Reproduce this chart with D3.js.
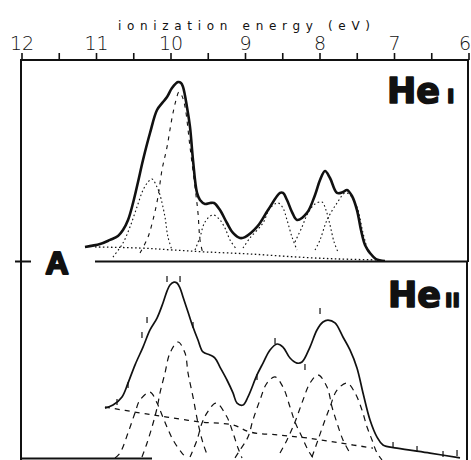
<!DOCTYPE html>
<html>
<head>
<meta charset="utf-8">
<script src="https://cdn.jsdelivr.net/npm/d3@7"></script>
<style>
body { margin: 0; background: #fff; }
svg { display: block; }
</style>
</head>
<body>
<svg id="chart" width="471" height="460"></svg>
<script>
// energies in eV, intensity in arbitrary units (0-100 for each panel)

var tickValues = [12, 11.5, 11, 10.5, 10, 9.5, 9, 8.5, 8, 7.5, 7, 6.5, 6];
var tickLabels = ["12", "11", "10", "9", "8", "7", "6"];

// He I spectrum (envelope)
var heI_envelope = [[11.148,7.8],[10.946,9.4],[10.812,11.7],[10.705,13.9],[10.638,17.2],[10.570,22.8],
  [10.503,32.2],[10.436,43.9],[10.369,56.1],[10.275,71.1],[10.181,83.9],[10.101,88.3],[10.047,91.1],
  [9.980,96.1],[9.899,99.4],[9.859,98.9],[9.832,96.7],[9.779,85.6],[9.738,74.4],[9.698,56.1],
  [9.644,37.8],[9.604,33.9],[9.537,31.7],[9.470,32.2],[9.416,32.2],[9.336,28.3],[9.242,21.1],
  [9.161,15.6],[9.067,12.8],[9.000,13.3],[8.839,18.9],[8.691,28.3],[8.530,37.8],[8.490,37.8],
  [8.436,33.9],[8.369,27.2],[8.302,22.8],[8.168,26.7],[8.060,36.7],[7.993,45.0],[7.926,50.0],
  [7.859,46.1],[7.765,37.8],[7.685,38.3],[7.631,39.4],[7.564,36.1],[7.497,28.3],[7.443,17.2],
  [7.389,8.9],[7.322,4.4],[7.242,1.1],[7.121,0]];

var heI_background = [[11.013,7.8],[10.409,7.2],[9.966,6.1],[9.510,5.0],[8.933,3.9],[8.302,2.2],
  [7.725,1.1],[7.188,0.6]];

// He I fitted bands
var heI_band1 = [[10.772,2.2],[10.638,10.0],[10.544,18.9],[10.450,30.0],[10.369,39.4],[10.302,43.9],
  [10.248,45.6],[10.181,41.1],[10.141,36.7],[10.074,24.4],[10.034,13.3],[9.980,6.1]];
var heI_band2 = [[10.409,4.4],[10.302,13.3],[10.235,22.8],[10.168,35.6],[10.114,50.6],[10.047,63.3],
  [9.980,79.4],[9.926,89.4],[9.886,93.9],[9.846,91.7],[9.805,85.6],[9.738,63.3],[9.671,41.1],
  [9.631,26.7],[9.604,11.7],[9.564,3.9]];
var heI_band3 = [[9.671,6.1],[9.604,13.3],[9.537,21.7],[9.430,25.6],[9.336,22.8],[9.269,18.3],
  [9.201,11.7],[9.107,6.1]];
var heI_band4 = [[9.027,7.2],[8.933,12.8],[8.758,21.1],[8.664,29.4],[8.557,32.2],[8.490,29.4],
  [8.436,22.8],[8.369,13.3],[8.302,6.1]];
var heI_band5 = [[8.329,10.6],[8.235,18.9],[8.154,26.7],[8.060,31.7],[7.966,32.8],[7.913,28.3],
  [7.859,20.0],[7.805,10.6],[7.752,5.0]];
var heI_band6 = [[8.060,6.1],[7.993,11.7],[7.899,22.8],[7.765,32.2],[7.658,37.8],[7.591,36.7],
  [7.497,30.0],[7.416,15.6],[7.349,5.0]];

// He II spectrum (envelope)
var heII_envelope = [[10.879,34.4],[10.772,36.1],[10.651,40.6],[10.570,48.3],[10.477,58.3],
  [10.369,68.3],[10.275,77.8],[10.181,84.4],[10.101,92.8],[10.047,99.4],[10.007,102.8],[9.953,104.4],
  [9.913,103.9],[9.872,101.1],[9.832,96.1],[9.765,87.8],[9.698,79.4],[9.631,72.2],[9.564,65.6],
  [9.470,63.9],[9.403,62.2],[9.336,57.2],[9.242,50.0],[9.161,42.8],[9.107,37.2],[9.027,36.1],
  [8.960,40.6],[8.839,52.8],[8.758,59.4],[8.664,66.7],[8.570,70.0],[8.490,68.3],[8.396,62.2],
  [8.302,59.4],[8.235,60.0],[8.128,68.3],[8.034,77.8],[7.953,82.2],[7.886,83.3],[7.792,81.7],
  [7.685,73.9],[7.591,66.7],[7.497,56.7],[7.416,42.8],[7.322,27.8],[7.228,18.3],[7.148,13.9],
  [6.960,12.2],[6.517,9.4],[6.114,6.7]];

var heII_points = [[10.047,106.1],[9.872,106.1],[10.315,83.3],[10.383,75.0],[10.570,47.2],
  [10.718,37.8],[9.698,80.6],[7.993,88.3],[8.597,71.7],[8.839,51.7],[8.195,57.2],[7.013,13.9],
  [6.691,11.7],[6.342,8.9],[6.154,9.4]];

var heII_background = [[10.879,35.0],[10.409,31.7],[10.047,29.4],[9.604,26.7],[9.161,25.0],
  [8.933,21.1],[8.530,19.4],[8.168,17.8],[7.725,15.0],[7.282,12.2]];

// He II fitted bands
var heII_band1 = [[10.745,6.7],[10.678,9.4],[10.570,20.6],[10.477,31.7],[10.409,38.9],[10.275,43.3],
  [10.181,37.2],[10.141,33.3],[10.047,23.9],[9.966,16.7],[9.846,9.4],[9.779,6.7]];
var heII_band2 = [[10.383,7.2],[10.315,15.0],[10.248,23.9],[10.181,34.4],[10.141,42.8],[10.074,53.9],
  [10.007,65.0],[9.899,71.1],[9.805,65.0],[9.765,53.9],[9.698,40.6],[9.631,26.1],[9.564,15.0],[9.497,7.2]];
var heII_band3 = [[9.738,7.2],[9.644,16.7],[9.577,26.1],[9.510,31.7],[9.389,37.2],[9.242,29.4],
  [9.161,20.6],[9.094,12.2],[9.040,6.7]];
var heII_band4 = [[9.134,6.7],[9.067,11.1],[8.960,18.3],[8.893,27.8],[8.799,38.9],[8.705,48.3],
  [8.597,51.7],[8.490,46.1],[8.396,35.0],[8.329,26.7],[8.235,18.3],[8.154,11.1],[8.087,6.7]];
var heII_band5 = [[8.530,9.4],[8.436,16.7],[8.329,26.7],[8.221,38.9],[8.128,48.3],[8.020,52.8],
  [7.899,46.1],[7.832,35.0],[7.765,26.1],[7.685,16.7],[7.591,9.4]];
var heII_band6 = [[8.101,7.2],[8.020,16.7],[7.926,27.8],[7.859,35.0],[7.765,44.4],[7.631,48.3],
  [7.523,42.8],[7.430,33.3],[7.362,23.9],[7.295,16.7],[7.228,9.4],[7.161,5.6]];


var svg = d3.select("#chart");
var ink = "#111";

var x = d3.scaleLinear().domain([12, 6]).range([21.5, 468.5]);
var y1 = d3.scaleLinear().domain([0, 100]).range([261, 81]);
var y2 = d3.scaleLinear().domain([0, 100]).range([470, 290]);

var defs = svg.append("defs");
defs.append("clipPath").attr("id", "clip1")
  .append("rect").attr("x", 22).attr("y", 61).attr("width", 445).attr("height", 201);
defs.append("clipPath").attr("id", "clip2")
  .append("rect").attr("x", 22).attr("y", 263).attr("width", 444).attr("height", 197);

function lineFor(yScale) {
  return d3.line()
    .x(function(d) { return x(d[0]); })
    .y(function(d) { return yScale(d[1]); })
    .curve(d3.curveCatmullRom.alpha(0.5));
}

// ---- panel 1 : He I
var p1 = svg.append("g").attr("clip-path", "url(#clip1)");
var line1 = lineFor(y1);

[heI_band1, heI_band3, heI_band4, heI_band5, heI_band6].forEach(function(b) {
  p1.append("path").datum(b).attr("d", line1)
    .attr("fill", "none").attr("stroke", ink).attr("stroke-width", 1.1)
    .attr("stroke-dasharray", "1.6,2.6");
});
p1.append("path").datum(heI_band2).attr("d", line1)
  .attr("fill", "none").attr("stroke", ink).attr("stroke-width", 1.1)
  .attr("stroke-dasharray", "4,5");
p1.append("path").datum(heI_background).attr("d", line1)
  .attr("fill", "none").attr("stroke", ink).attr("stroke-width", 1.3)
  .attr("stroke-dasharray", "1.5,2.5");
p1.append("path").datum(heI_envelope).attr("d", line1)
  .attr("fill", "none").attr("stroke", ink).attr("stroke-width", 2.6)
  .attr("stroke-linejoin", "round");

// ---- panel 2 : He II
var p2 = svg.append("g").attr("clip-path", "url(#clip2)");
var line2 = lineFor(y2);

[heII_band1, heII_band2, heII_band3, heII_band4, heII_band5, heII_band6].forEach(function(b) {
  p2.append("path").datum(b).attr("d", line2)
    .attr("fill", "none").attr("stroke", ink).attr("stroke-width", 1.2)
    .attr("stroke-dasharray", "6,5");
});
p2.append("path").datum(heII_background).attr("d", line2)
  .attr("fill", "none").attr("stroke", ink).attr("stroke-width", 1.3)
  .attr("stroke-dasharray", "5,5");
p2.append("path").datum(heII_envelope).attr("d", line2)
  .attr("fill", "none").attr("stroke", ink).attr("stroke-width", 1.7)
  .attr("stroke-linejoin", "round");
p2.selectAll("line.pt").data(heII_points).enter().append("line")
  .attr("class", "pt")
  .attr("x1", function(d) { return x(d[0]); })
  .attr("x2", function(d) { return x(d[0]); })
  .attr("y1", function(d) { return y2(d[1]) - 3; })
  .attr("y2", function(d) { return y2(d[1]) + 3; })
  .attr("stroke", ink).attr("stroke-width", 1.2);

// ---- frame
var frame = svg.append("g").attr("stroke", ink).attr("fill", "none");
frame.append("line").attr("x1", 21).attr("x2", 468).attr("y1", 60).attr("y2", 60).attr("stroke-width", 2);
frame.append("line").attr("x1", 21).attr("x2", 21).attr("y1", 59).attr("y2", 460).attr("stroke-width", 2);
frame.append("line").attr("x1", 468).attr("x2", 468).attr("y1", 59).attr("y2", 262).attr("stroke-width", 2);
frame.append("line").attr("x1", 467).attr("x2", 467).attr("y1", 261).attr("y2", 460).attr("stroke-width", 2);
frame.append("line").attr("x1", 15).attr("x2", 31).attr("y1", 261.5).attr("y2", 261.5).attr("stroke-width", 2);
frame.append("line").attr("x1", 95).attr("x2", 468).attr("y1", 261.5).attr("y2", 261.5).attr("stroke-width", 2);
frame.append("line").attr("x1", 21).attr("x2", 152).attr("y1", 458.5).attr("y2", 458.5).attr("stroke-width", 2);

// ---- top axis
var axis = d3.axisTop(x)
  .tickValues(tickValues)
  .tickSize(7)
  .tickPadding(3)
  .tickFormat(function(d) { return d % 1 === 0 ? tickLabels[12 - d] : ""; });

var gAxis = svg.append("g").attr("transform", "translate(0,60)").call(axis);
gAxis.select(".domain").remove();
gAxis.selectAll(".tick line").attr("stroke", ink).attr("stroke-width", 1.6);
gAxis.selectAll(".tick text")
  .attr("fill", ink)
  .style("font-family", "'DejaVu Sans', sans-serif")
  .style("font-weight", "200")
  .style("font-size", "19px");
// the last label sits on the right edge; keep it inside the picture
gAxis.selectAll(".tick text").filter(function(d) { return d === 6; })
  .attr("text-anchor", "end").attr("dx", 2);

svg.append("text")
  .attr("x", 118).attr("y", 30)
  .attr("textLength", 252).attr("lengthAdjust", "spacing")
  .style("font-family", "'DejaVu Sans', sans-serif")
  .style("font-size", "12px")
  .attr("fill", ink)
  .text("ionization energy (eV)");

// ---- labels
var lab1 = svg.append("text").attr("x", 387).attr("y", 103)
  .style("font-family", "'DejaVu Sans', sans-serif").style("font-weight", "bold")
  .style("font-size", "35px").attr("fill", ink)
  .attr("stroke", ink).attr("stroke-width", 1.6).attr("stroke-linejoin", "round");
lab1.append("tspan").text("He");
lab1.append("tspan").attr("dx", 7).style("font-size", "20px").text("I");

var lab2 = svg.append("text").attr("x", 388).attr("y", 307)
  .style("font-family", "'DejaVu Sans', sans-serif").style("font-weight", "bold")
  .style("font-size", "35px").attr("fill", ink)
  .attr("stroke", ink).attr("stroke-width", 1.6).attr("stroke-linejoin", "round");
lab2.append("tspan").text("He");
lab2.append("tspan").attr("dx", 4).style("font-size", "20px").text("II");

svg.append("text").attr("x", 57).attr("y", 274)
  .attr("text-anchor", "middle")
  .style("font-family", "'Liberation Sans', Arial, sans-serif").style("font-weight", "bold")
  .style("font-size", "32px").attr("fill", ink)
  .attr("stroke", ink).attr("stroke-width", 2.2).attr("stroke-linejoin", "round")
  .text("A");
</script>
</body>
</html>
